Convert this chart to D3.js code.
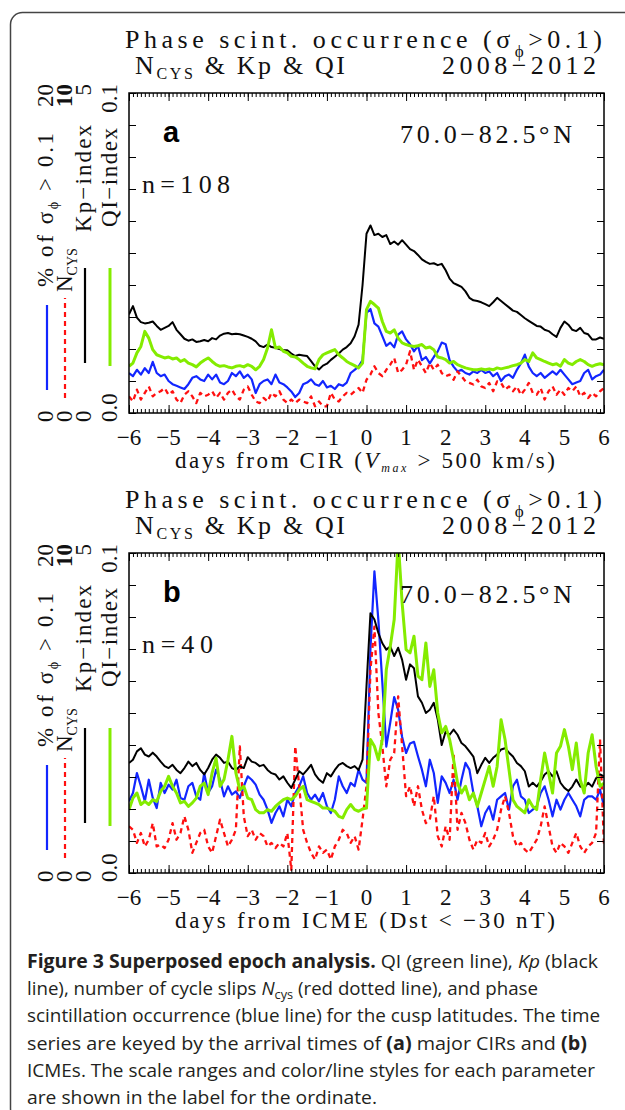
<!DOCTYPE html>
<html>
<head>
<meta charset="utf-8">
<script src="https://cdn.jsdelivr.net/npm/d3@7"></script>
<style>
  body { margin: 0; background: #fff; }
  svg { display: block; }
  .serif { font-family: "Liberation Serif", "DejaVu Serif", serif; fill: #111; }
  .tick line { stroke: #000; stroke-width: 1; }
</style>
</head>
<body>
<svg id="fig" width="625" height="1110"></svg>
<script>
// epoch days, sampled every 0.1 day from -6 to +6
const days = d3.range(-60, 61).map(i => i / 10);
const dayTicks = [-6, -5, -4, -3, -2, -1, 0, 1, 2, 3, 4, 5, 6];

// ---- panel a : CIR (n=108) ----
const cirScint = [
  2.5, 2.3, 2.7, 2.4, 2.8, 2.5, 3.2, 2.5, 2.3, 2.4,
  2.0, 1.8, 1.7, 1.6, 1.5, 1.8, 2.2, 2.3, 2.1, 2.0,
  2.4, 2.1, 2.4, 1.9, 1.8, 2.0, 2.5, 2.3, 2.6, 2.2,
  2.4, 2.1, 1.25, 1.8, 2.0, 2.1, 1.8, 2.4, 1.9, 1.8,
  1.6, 1.35, 1.0, 1.25, 1.8, 1.9, 2.1, 1.8, 1.7, 2.0,
  1.6, 1.7, 1.5, 1.8, 1.7, 1.9, 2.5, 2.7, 2.9, 3.3,
  6.25, 6.5, 5.6, 5.4, 4.8, 4.2, 4.4, 4.1, 4.9, 5.1,
  4.6, 4.3, 3.85, 4.2, 3.3, 3.5, 3.1, 3.5, 3.85, 4.4,
  4.3, 3.3, 2.9, 2.6, 2.7, 2.5, 2.4, 2.6, 2.5, 2.7,
  2.5, 2.6, 2.3, 2.5, 2.0, 2.3, 2.4, 2.2, 2.7, 3.1,
  3.65, 2.9, 2.5, 2.3, 2.5, 2.2, 2.4, 2.6, 2.4, 2.7,
  2.4, 2.1, 1.8, 1.9, 2.0, 2.5, 2.7, 2.1, 2.3, 2.4,
  2.7
];
const cirNcys = [
  .52, .36, .73, .42, .63, .83, .52, .63, .68, .78,
  .57, .68, .42, .31, .57, .68, .52, .31, .63, .52,
  .57, .68, .47, .63, .42, .63, .73, .52, .42, .73,
  .83, .57, .36, .31, .47, .36, .63, .52, .68, .42,
  .31, .42, .31, .42, .36, .31, .52, .21, .36, .21,
  .21, .63, .42, .36, .52, .63, .57, .68, .78, .63,
  1.04, 1.2, 1.46, 1.25, 1.15, 1.35, 1.51, 1.72, 1.25, 1.35,
  1.51, 1.93, 1.35, 1.67, 1.46, 1.25, 1.56, 1.35, 1.51, 1.25,
  1.15, 1.2, 1.04, 1.3, 1.15, .99, .94, .89, 1.04, .83,
  .78, .94, .68, .99, .94, .73, .83, .68, .83, .57,
  .73, .94, .63, .57, .78, .42, .68, .83, .57, .73,
  .57, .78, .68, .83, .52, .63, .47, .63, .52, .68,
  .78
];
const cirKp = [
  1.54, 1.67, 1.49, 1.42, 1.40, 1.41, 1.43, 1.36, 1.30, 1.33,
  1.36, 1.42, 1.30, 1.23, 1.16, 1.13, 1.15, 1.11, 1.12, 1.14,
  1.12, 1.17, 1.15, 1.21, 1.24, 1.25, 1.23, 1.24, 1.23, 1.21,
  1.19, 1.16, 1.12, 1.05, 1.03, 1.07, 1.03, 1.02, 1.00, 0.98,
  0.98, 0.93, 0.89, 0.91, 0.90, 0.89, 0.81, 0.73, 0.68, 0.74,
  0.77, 0.83, 0.88, 0.93, 0.99, 1.03, 1.09, 1.20, 1.38, 2.00,
  2.80, 2.93, 2.78, 2.80, 2.75, 2.78, 2.64, 2.68, 2.63, 2.70,
  2.63, 2.56, 2.53, 2.47, 2.40, 2.36, 2.33, 2.34, 2.31, 2.33,
  2.23, 2.10, 2.03, 2.00, 1.97, 1.90, 1.80, 1.76, 1.75, 1.73,
  1.70, 1.67, 1.73, 1.80, 1.75, 1.70, 1.65, 1.60, 1.58, 1.53,
  1.48, 1.44, 1.40, 1.36, 1.35, 1.30, 1.28, 1.23, 1.19, 1.33,
  1.43, 1.38, 1.30, 1.28, 1.33, 1.25, 1.23, 1.15, 1.15, 1.18,
  1.16
];
const cirQI = [
  .0146, .0156, .0188, .0208, .0255, .0234, .0198, .0182, .0177, .0172,
  .0175, .0169, .0172, .0161, .0167, .0156, .0151, .0144, .0156, .0165,
  .0172, .0161, .0151, .0146, .0148, .0144, .0141, .0146, .0148, .0144,
  .0151, .0146, .0135, .0146, .0167, .0203, .0260, .0203, .0206, .0193,
  .0188, .0177, .0175, .0167, .0156, .0146, .0141, .0138, .0167, .0182,
  .0188, .0193, .0198, .0182, .0172, .0161, .0154, .0148, .0141, .0156,
  .0323, .0349, .0339, .0328, .0286, .0255, .0250, .0260, .0234, .0219,
  .0214, .0210, .0208, .0210, .0214, .0203, .0206, .0198, .0175, .0172,
  .0167, .0156, .0161, .0151, .0146, .0141, .0138, .0135, .0135, .0138,
  .0135, .0138, .0135, .0141, .0138, .0141, .0144, .0148, .0151, .0156,
  .0167, .0161, .0188, .0172, .0167, .0161, .0156, .0151, .0154, .0146,
  .0167, .0156, .0151, .0161, .0167, .0161, .0151, .0146, .0151, .0154,
  .0151
];

// ---- panel b : ICME (n=40) ----
const icmeScint = [
  4.48, 5.0, 6.25, 5.42, 4.48, 5.83, 4.69, 4.06, 5.63, 5.0,
  5.52, 5.21, 5.83, 4.69, 4.58, 5.42, 5.63, 4.79, 4.58, 6.25,
  5.0, 5.42, 6.46, 5.83, 4.79, 5.42, 4.9, 5.1, 4.69, 5.42,
  6.04, 5.83, 5.52, 4.9, 4.58, 3.96, 3.13, 3.75, 4.17, 3.54,
  4.58, 4.17, 5.0, 5.42, 6.04, 5.0, 4.58, 4.9, 4.48, 5.0,
  4.17, 3.75, 4.58, 6.04, 5.42, 5.0, 5.63, 5.42, 6.46, 5.83,
  5.63, 14.0, 18.85, 15.8, 11.9, 7.9, 9.4, 11.0, 10.2, 8.5,
  7.5, 8.1, 8.2, 7.3, 6.46, 5.42, 7.08, 6.25, 4.38, 6.04,
  5.63, 5.0, 5.83, 4.58, 5.83, 6.88, 6.46, 5.0, 4.17, 2.92,
  3.75, 4.17, 3.33, 4.58, 4.79, 5.0, 3.96, 5.42, 5.83, 4.79,
  4.58, 3.75, 3.96, 4.17, 5.0, 5.42, 4.58, 3.54, 4.58, 3.96,
  4.58, 5.0, 4.58, 4.17, 3.54, 4.58, 4.79, 4.79, 4.58, 5.21,
  4.17
];
const icmeNcys = [
  1.46, 1.35, .94, 1.25, .83, 1.04, 1.56, .83, .89, .78,
  1.04, 1.56, 1.04, 1.25, 1.77, 1.35, .63, .94, 1.25, 1.35,
  .83, .63, 1.15, 1.67, 1.25, .83, 1.04, 1.35, 3.96, 1.77,
  1.15, 1.35, 1.04, 1.25, 1.15, .83, .94, .78, .94, .83,
  1.25, .1, 3.96, 2.71, 1.35, .94, .63, .42, .83, .63,
  .73, .42, .83, 1.04, 1.35, 1.25, .94, 1.15, .73, 1.67,
  2.71, 6.35, 7.7, 5.0, 3.96, 2.71, 3.54, 3.75, 5.52, 3.96,
  2.4, 2.71, 2.08, 2.71, 1.98, 1.56, 1.67, 2.4, 1.15, .83,
  1.46, 1.04, 3.75, 1.35, 1.88, 1.56, 1.04, .73, 1.04, .94,
  1.25, .83, 1.04, 1.35, 1.98, 2.4, 1.88, 1.15, .83, .94,
  .73, .63, .83, 1.04, 1.46, 2.08, 1.46, .83, .63, .94,
  .83, .63, .94, 1.25, .83, .63, .83, .94, 1.25, 4.17,
  .83
];
const icmeKp = [
  1.72, 1.77, 1.90, 1.95, 1.85, 1.82, 1.88, 1.82, 1.74, 1.67,
  1.64, 1.69, 1.61, 1.56, 1.64, 1.74, 1.67, 1.72, 1.61, 1.54,
  1.64, 1.77, 1.85, 1.80, 1.72, 1.74, 1.64, 1.61, 1.67, 1.64,
  1.81, 1.74, 1.72, 1.67, 1.69, 1.61, 1.56, 1.54, 1.46, 1.51,
  1.41, 1.33, 1.46, 1.59, 1.54, 1.61, 1.69, 1.54, 1.46, 1.41,
  1.56, 1.51, 1.61, 1.69, 1.72, 1.67, 1.64, 1.67, 1.61, 1.77,
  2.92, 4.06, 3.96, 3.75, 3.59, 3.49, 3.54, 3.39, 3.52, 3.33,
  3.02, 3.26, 3.20, 2.76, 2.66, 2.50, 2.55, 2.66, 2.40, 2.00,
  2.21, 2.16, 2.24, 2.16, 2.03, 1.98, 1.90, 1.82, 1.56, 1.69,
  1.80, 1.72, 1.80, 1.85, 1.93, 1.95, 1.88, 1.82, 1.72, 1.67,
  1.59, 1.35, 1.41, 1.35, 1.43, 1.54, 1.59, 1.51, 1.59, 1.41,
  1.33, 1.28, 1.35, 1.46, 1.35, 1.33, 1.41, 1.35, 1.48, 1.54,
  1.51
];
const icmeQI = [
  .0198, .0234, .0250, .0214, .0224, .0214, .0229, .0224, .0255, .0271,
  .0302, .0271, .0250, .0219, .0224, .0208, .0219, .0234, .0271, .0281,
  .0245, .0313, .0359, .0271, .0292, .0354, .0427, .0313, .0260, .0271,
  .0234, .0229, .0198, .0188, .0188, .0198, .0193, .0208, .0219, .0229,
  .0234, .0229, .0240, .0260, .0271, .0229, .0224, .0219, .0214, .0203,
  .0203, .0198, .0193, .0177, .0172, .0198, .0214, .0198, .0193, .0200,
  .0203, .0417, .0396, .0354, .0417, .0635, .0708, .0792, .1040, .0844,
  .0698, .0688, .0740, .0615, .0604, .0719, .0583, .0635, .0500, .0438,
  .0458, .0417, .0354, .0281, .0250, .0271, .0229, .0250, .0208, .0250,
  .0292, .0333, .0271, .0333, .0479, .0417, .0323, .0229, .0208, .0198,
  .0188, .0229, .0208, .0198, .0292, .0375, .0313, .0250, .0375, .0396,
  .0448, .0396, .0323, .0406, .0292, .0250, .0375, .0432, .0333, .0271,
  .0281
];

// ---- layout ----
const svg = d3.select('#fig');
const plotH = 320;
const x = d3.scaleLinear().domain([-6, 6]).range([129, 604]);

// outer figure frame
svg.append('rect')
  .attr('x', 10.5).attr('y', 12.5)
  .attr('width', 660).attr('height', 1108)
  .attr('rx', 12)
  .attr('fill', 'none').attr('stroke', '#444').attr('stroke-width', 1.5);

const series = [
  { key: 'scint', max: 20, color: '#1226ff', width: 2.2, dash: null, legX: 47, legY: [23, 108] },
  { key: 'ncys', max: 10, color: '#ff1010', width: 2.3, dash: '5,4', legX: 65, legY: [15, 115] },
  { key: 'kp', max: 5, color: '#000', width: 2, dash: null, legX: 85, legY: [50, 145] },
  { key: 'qi', max: 0.1, color: '#84ec00', width: 3, dash: null, legX: 110, legY: [47, 145] }
];

const panels = [
  { id: 'a', top: 93, n: '108', scint: cirScint, ncys: cirNcys, kp: cirKp, qi: cirQI },
  { id: 'b', top: 553, n: '40', scint: icmeScint, ncys: icmeNcys, kp: icmeKp, qi: icmeQI }
];

const fmt = v => (v < 0 ? '\u2212' + Math.abs(v) : String(v));

panels.forEach(p => {
  const top = p.top, bottom = top + plotH;
  const g = svg.append('g');

  // titles
  const t1 = g.append('text').attr('class', 'serif')
    .attr('x', 125).attr('y', top - 45)
    .attr('font-size', 26)
    .attr('textLength', 477).attr('lengthAdjust', 'spacing');
  t1.append('tspan').text('Phase scint. occurrence (\u03c3');
  t1.append('tspan').attr('dy', 9).attr('font-size', 17).text('\u03d5');
  t1.append('tspan').attr('dy', -9).text('>0.1)');

  const t2 = g.append('text').attr('class', 'serif')
    .attr('x', 135).attr('y', top - 19)
    .attr('font-size', 26)
    .attr('textLength', 210).attr('lengthAdjust', 'spacing');
  t2.append('tspan').text('N');
  t2.append('tspan').attr('dy', 5).attr('font-size', 16).text('CYS');
  t2.append('tspan').attr('dy', -5).text(' & Kp & QI');

  g.append('text').attr('class', 'serif')
    .attr('x', 442).attr('y', top - 19)
    .attr('font-size', 26)
    .attr('textLength', 154).attr('lengthAdjust', 'spacing')
    .text('2008\u22122012');

  // clip for series
  const clipId = 'clip-' + p.id;
  g.append('clipPath').attr('id', clipId)
    .append('rect').attr('x', 129).attr('y', top).attr('width', 475).attr('height', plotH);

  const lines = g.append('g').attr('clip-path', `url(#${clipId})`);
  series.forEach(s => {
    const y = d3.scaleLinear().domain([0, s.max]).range([bottom, top]);
    const line = d3.line().x((d, i) => x(days[i])).y(d => y(d));
    lines.append('path')
      .datum(p[s.key])
      .attr('d', line)
      .attr('fill', 'none')
      .attr('stroke', s.color)
      .attr('stroke-width', s.width)
      .attr('stroke-linejoin', 'round')
      .attr('stroke-dasharray', s.dash);

    // legend swatch next to the ordinate label
    g.append('line')
      .attr('x1', s.legX).attr('x2', s.legX)
      .attr('y1', bottom - s.legY[0]).attr('y2', bottom - s.legY[1])
      .attr('stroke', s.color)
      .attr('stroke-width', s.key === 'qi' ? 3 : 2.2)
      .attr('stroke-dasharray', s.dash);
  });

  // frame
  g.append('rect')
    .attr('x', 129).attr('y', top).attr('width', 475).attr('height', plotH)
    .attr('fill', 'none').attr('stroke', '#000').attr('stroke-width', 1.5);

  // ticks (inward)
  const noDomain = sel => sel.select('.domain').remove();
  const minor = days;
  g.append('g').attr('transform', `translate(0,${bottom})`)
    .call(d3.axisBottom(x).tickValues(minor).tickSize(-4).tickFormat('')).call(noDomain);
  g.append('g').attr('transform', `translate(0,${bottom})`)
    .call(d3.axisBottom(x).tickValues(dayTicks).tickSize(-8).tickFormat('')).call(noDomain);
  g.append('g').attr('transform', `translate(0,${top})`)
    .call(d3.axisTop(x).tickValues(minor).tickSize(-4).tickFormat('')).call(noDomain);
  g.append('g').attr('transform', `translate(0,${top})`)
    .call(d3.axisTop(x).tickValues(dayTicks).tickSize(-8).tickFormat('')).call(noDomain);

  const yKp = d3.scaleLinear().domain([0, 5]).range([bottom, top]);
  const kpTicks = d3.range(0, 11).map(i => i * 0.5);
  g.append('g').attr('transform', 'translate(129,0)')
    .call(d3.axisLeft(yKp).tickValues(kpTicks).tickSize(-7).tickFormat('')).call(noDomain);
  g.append('g').attr('transform', 'translate(604,0)')
    .call(d3.axisRight(yKp).tickValues(kpTicks).tickSize(-7).tickFormat('')).call(noDomain);

  // x tick labels
  g.selectAll('.xl').data(dayTicks).enter().append('text')
    .attr('class', 'serif')
    .attr('x', d => x(d)).attr('y', bottom + 32)
    .attr('font-size', 23)
    .attr('text-anchor', 'middle')
    .text(fmt);

  // x axis title
  const xt = g.append('text').attr('class', 'serif')
    .attr('x', 175).attr('y', bottom + 55)
    .attr('font-size', 23)
    .attr('textLength', 380).attr('lengthAdjust', 'spacing');
  if (p.id === 'a') {
    xt.append('tspan').text('days from CIR (');
    xt.append('tspan').attr('font-style', 'italic').text('V');
    xt.append('tspan').attr('font-style', 'italic').attr('font-size', 12).attr('dy', 4).text('max');
    xt.append('tspan').attr('dy', -4).text(' > 500 km/s)');
  } else {
    xt.append('tspan').text('days from ICME (Dst < \u221230 nT)');
  }

  // in-plot annotations
  g.append('text')
    .attr('x', 163).attr('y', top + 49)
    .attr('font-family', '"Liberation Sans", Arial, sans-serif')
    .attr('font-weight', 'bold').attr('font-size', 29)
    .text(p.id);
  g.append('text').attr('class', 'serif')
    .attr('x', 400).attr('y', top + 50)
    .attr('font-size', 26)
    .attr('textLength', 172).attr('lengthAdjust', 'spacing')
    .text('70.0\u221282.5\u00b0N');
  g.append('text').attr('class', 'serif')
    .attr('x', 142).attr('y', top + 100)
    .attr('font-size', 26)
    .attr('textLength', p.n.length === 3 ? 88 : 71).attr('lengthAdjust', 'spacing')
    .text('n=' + p.n);

  // rotated ordinate labels
  const rot = (cx, cy, anchor) => g.append('text').attr('class', 'serif')
    .attr('transform', `translate(${cx},${cy}) rotate(-90)`)
    .attr('text-anchor', anchor)
    .attr('font-size', 23);

  const cols = [
    { x: 53, max: '20', zero: '0', bold: false },
    { x: 72, max: '10', zero: '0', bold: true },
    { x: 91, max: '5', zero: '0', bold: false },
    { x: 117, max: '0.1', zero: '0.0', bold: false }
  ];
  cols.forEach(c => {
    rot(c.x, top - 9, 'end').attr('font-weight', c.bold ? 'bold' : null).text(c.max);
    rot(c.x, bottom + 9, 'start').text(c.zero);
  });

  const l1 = rot(53, bottom - 126, 'start').attr('textLength', 154).attr('lengthAdjust', 'spacing');
  l1.append('tspan').text('% of \u03c3');
  l1.append('tspan').attr('font-size', 14).attr('dy', 5).text('\u03d5');
  l1.append('tspan').attr('dy', -5).text(' > 0.1');

  const l2 = rot(72, bottom - 121, 'start');
  l2.append('tspan').text('N');
  l2.append('tspan').attr('font-size', 14).attr('dy', 5).text('CYS');

  rot(91, bottom - 181, 'start').attr('textLength', 107).attr('lengthAdjust', 'spacing').text('Kp\u2212index');
  rot(117, bottom - 186, 'start').attr('textLength', 99).attr('lengthAdjust', 'spacing').text('QI\u2212index');
});

// caption
const captionLines = [
  [{ t: 'Figure 3 Superposed epoch analysis.', b: 1 }, { t: ' QI (green line), ' }, { t: 'Kp', i: 1 }, { t: ' (black' }],
  [{ t: 'line), number of cycle slips ' }, { t: 'N', i: 1 }, { t: 'cys', sub: 1 }, { t: ' (red dotted line), and phase' }],
  [{ t: 'scintillation occurrence (blue line) for the cusp latitudes. The time' }],
  [{ t: 'series are keyed by the arrival times of ' }, { t: '(a)', b: 1 }, { t: ' major CIRs and ' }, { t: '(b)', b: 1 }],
  [{ t: 'ICMEs. The scale ranges and color/line styles for each parameter' }],
  [{ t: 'are shown in the label for the ordinate.' }]
];
const captionWidths = [571, 511, 573, 560, 568, 350];

captionLines.forEach((parts, li) => {
  const txt = svg.append('text')
    .attr('x', 27).attr('y', 968 + li * 27.2)
    .attr('font-family', '"Open Sans", "Noto Sans", sans-serif')
    .attr('font-size', 19)
    .attr('fill', '#231f20')
    .attr('textLength', captionWidths[li])
    .attr('lengthAdjust', 'spacingAndGlyphs');
  let shifted = false;
  parts.forEach(pt => {
    const ts = txt.append('tspan').text(pt.t);
    if (pt.b) ts.attr('font-weight', 'bold');
    if (pt.i) ts.attr('font-style', 'italic');
    if (pt.sub) { ts.attr('font-size', 13).attr('dy', 4); shifted = true; }
    else if (shifted) { ts.attr('dy', -4); shifted = false; }
  });
});
</script>
</body>
</html>
